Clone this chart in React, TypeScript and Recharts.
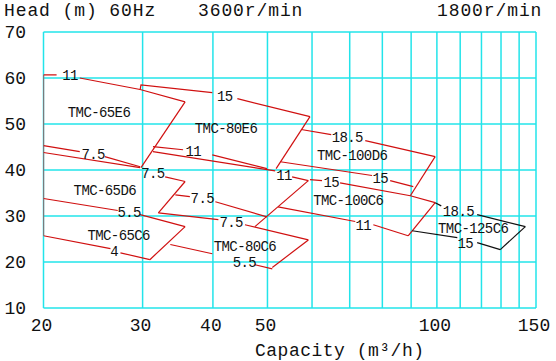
import React from 'react'
import { ComposedChart, Line, Scatter, XAxis, YAxis, CartesianGrid } from 'recharts'

const RED = '#d01010'
const BLACK = '#111111'
const CYAN = '#22e4ea'
const FONT = '"Liberation Mono", "DejaVu Sans Mono", monospace'

// capacity ticks (log axis) and head ticks
const xGridTicks = [20, 30, 40, 50, 60, 70, 80, 90, 100, 110, 120, 130, 140, 150]
const xLabelTicks = [20, 30, 40, 50, 100, 150]
const yTicks = [10, 20, 30, 40, 50, 60, 70]

// 3600 r/min curves, [capacity, head]; gaps are left where the kW labels sit
const left65 = [[20, 60.7], [20, 25.7]]
const e65TopA = [[20, 60.7], [21.1, 60.7]]
const e65TopB = [[23.2, 60.0], [29.7, 57.5], [35.7, 54.8]]
const e65Right = [[35.7, 54.8], [29.8, 40.5]]
const e65BotA = [[20, 45.3], [23.2, 44.0]]
const e65BotB = [[25.7, 42.9], [29.7, 40.7]]
const d65TopA = [[20, 43.8], [29.7, 40.5]]
const d65TopB = [[32.9, 38.5], [35.7, 37.5]]
const d65Right = [[35.7, 37.5], [32.0, 30.7]]
const c65TopA = [[20, 33.8], [27.1, 31.2]]
const c65TopB = [[29.7, 30.3], [35.7, 27.7]]
const c65BotA = [[20, 25.7], [26.3, 22.9]]
const c65BotB = [[27.4, 22.0], [30.9, 20.5]]
const c65Right = [[30.9, 20.5], [35.7, 27.7]]

const e80TopA = [[29.7, 57.5], [29.8, 58.5], [39.9, 56.8]]
const e80TopB = [[44.2, 55.5], [59.5, 51.6]]
const e80Right = [[59.5, 51.6], [51.8, 40.3]]
const e80BotA = [[31.3, 45.1], [35.4, 44.4]]
const e80BotB = [[39.9, 43.3], [49.9, 40.3]]
const d80TopA = [[31.3, 44.0], [51.6, 39.8]]
const d80TopB = [[55.3, 38.5], [59.1, 37.7]]
const d80Right = [[59.1, 37.7], [47.5, 27.7]]
const d80BotA = [[34.3, 34.6], [36.4, 34.2]]
const d80BotB = [[40.4, 33.1], [49.9, 29.8]]
const c80TopA = [[32.0, 30.7], [40.9, 29.2]]
const c80TopB = [[45.6, 28.1], [59.1, 24.8]]
const c80Right = [[59.1, 24.8], [51.0, 18.8]]
const c80BotA = [[33.6, 23.8], [39.9, 21.8]]
const c80BotB = [[47.5, 19.4], [51.0, 18.5]]

const d100TopA = [[57.4, 48.8], [64.9, 47.7]]
const d100TopB = [[74.6, 46.4], [99.3, 42.9]]
const d100Right = [[99.3, 42.9], [89.7, 34.4]]
const d100BotA = [[52.7, 41.8], [76.7, 38.8]]
const d100BotB = [[82.6, 37.7], [90.8, 36.4]]
const c100TopA = [[59.5, 37.9], [62.5, 37.7]]
const c100TopB = [[67.3, 37.2], [89.7, 34.4], [99.3, 32.9]]
const c100Right = [[99.3, 32.9], [88.9, 25.7]]
const c100BotA = [[52.2, 32.0], [71.6, 28.8]]
const c100BotB = [[77.1, 28.1], [88.9, 25.7]]

// 1800 r/min
const c125TopA = [[99.3, 32.9], [101.8, 32.2]]
const c125TopB = [[117.9, 30.3], [143.6, 27.7]]
const c125Right = [[143.6, 27.7], [129.6, 22.7]]
const c125BotA = [[90.4, 26.8], [108.7, 25.3]]
const c125BotB = [[117.9, 24.2], [129.6, 22.7]]

const redCurves = [
  left65, e65TopA, e65TopB, e65Right, e65BotA, e65BotB, d65TopA, d65TopB, d65Right,
  c65TopA, c65TopB, c65BotA, c65BotB, c65Right,
  e80TopA, e80TopB, e80Right, e80BotA, e80BotB, d80TopA, d80TopB, d80Right, d80BotA, d80BotB,
  c80TopA, c80TopB, c80Right, c80BotA, c80BotB,
  d100TopA, d100TopB, d100Right, d100BotA, d100BotB, c100TopA, c100TopB, c100Right, c100BotA, c100BotB,
]
const blackCurves = [c125TopA, c125TopB, c125Right, c125BotA, c125BotB]

// motor kW on each curve
const kwLabels = [
  { x: 22.3, y: 60.7, t: '11' },
  { x: 42.0, y: 56.2, t: '15' },
  { x: 24.5, y: 43.5, t: '7.5' },
  { x: 36.9, y: 44.2, t: '11' },
  { x: 31.3, y: 39.4, t: '7.5' },
  { x: 53.5, y: 39.0, t: '11' },
  { x: 38.3, y: 34.0, t: '7.5' },
  { x: 28.4, y: 30.9, t: '5.5' },
  { x: 43.1, y: 28.8, t: '7.5' },
  { x: 26.7, y: 22.5, t: '4' },
  { x: 45.5, y: 20.0, t: '5.5' },
  { x: 69.3, y: 47.2, t: '18.5' },
  { x: 79.3, y: 38.3, t: '15' },
  { x: 64.9, y: 37.5, t: '15' },
  { x: 74.0, y: 28.1, t: '11' },
  { x: 109.2, y: 31.2, t: '18.5' },
  { x: 112.3, y: 24.2, t: '15' },
]

const modelLabels = [
  { x: 25.1, y: 52.7, t: 'TMC-65E6' },
  { x: 42.2, y: 49.2, t: 'TMC-80E6' },
  { x: 70.7, y: 43.3, t: 'TMC-100D6' },
  { x: 25.7, y: 35.7, t: 'TMC-65D6' },
  { x: 69.6, y: 33.5, t: 'TMC-100C6' },
  { x: 27.2, y: 25.9, t: 'TMC-65C6' },
  { x: 45.6, y: 23.5, t: 'TMC-80C6' },
  { x: 116.0, y: 27.5, t: 'TMC-125C6' },
]

const toPts = (a: number[][]) => a.map(([x, y]) => ({ x, y }))

const TextMark = (props: any) => {
  const { cx, cy, payload } = props
  return (
    <text x={cx} y={cy} dy="0.36em" textAnchor="middle" fontFamily={FONT} fontSize={14}
      letterSpacing={-0.6} fill={BLACK}>
      {payload.t}
    </text>
  )
}

const XTick = (props: any) => {
  const { x, payload } = props
  if (!xLabelTicks.includes(payload.value)) return null
  return (
    <text x={x - 2} y={331} textAnchor="middle" fontFamily={FONT} fontSize={18} fill={BLACK}>
      {payload.value}
    </text>
  )
}

const YTick = (props: any) => {
  const { y, payload } = props
  return (
    <text x={26} y={y + 6} textAnchor="end" fontFamily={FONT} fontSize={18} fill={BLACK}>
      {payload.value}
    </text>
  )
}

export default function App() {
  return (
    <div style={{ position: 'absolute', left: 0, top: 0, width: 556, height: 361, background: '#fff' }}>
      <ComposedChart width={556} height={361} margin={{ top: 32, right: 20, bottom: 23, left: 0.5 }}>
        <CartesianGrid stroke={CYAN} strokeWidth={1.5} />
        <XAxis dataKey="x" type="number" scale="log" domain={[20, 150]} ticks={xGridTicks}
          allowDataOverflow axisLine={false} tickLine={false} height={30} tick={<XTick />} interval={0} />
        <YAxis type="number" domain={[10, 70]} ticks={yTicks} width={43}
          axisLine={false} tickLine={false} tick={<YTick />} interval={0} />
        {redCurves.map((c, i) => (
          <Line key={`r${i}`} data={toPts(c)} dataKey="y" stroke={RED} strokeWidth={1.2}
            dot={false} activeDot={false} isAnimationActive={false} legendType="none" />
        ))}
        {blackCurves.map((c, i) => (
          <Line key={`b${i}`} data={toPts(c)} dataKey="y" stroke={BLACK} strokeWidth={1.2}
            dot={false} activeDot={false} isAnimationActive={false} legendType="none" />
        ))}
        <Scatter data={kwLabels} dataKey="y" shape={<TextMark />} isAnimationActive={false} legendType="none" />
        <Scatter data={modelLabels} dataKey="y" shape={<TextMark />} isAnimationActive={false} legendType="none" />
      </ComposedChart>
      <svg width={556} height={361} style={{ position: 'absolute', left: 0, top: 0, pointerEvents: 'none' }}>
        <g fontFamily={FONT} fontSize={18} fill={BLACK} letterSpacing={0.9}>
          <text x={4} y={16}>Head (m) 60Hz</text>
          <text x={198} y={16}>3600r/min</text>
          <text x={437} y={16}>1800r/min</text>
        </g>
        <text x={255} y={356} fontFamily={FONT} fontSize={18} fill={BLACK} letterSpacing={0.5}>
          Capacity (m³/h)
        </text>
      </svg>
    </div>
  )
}
